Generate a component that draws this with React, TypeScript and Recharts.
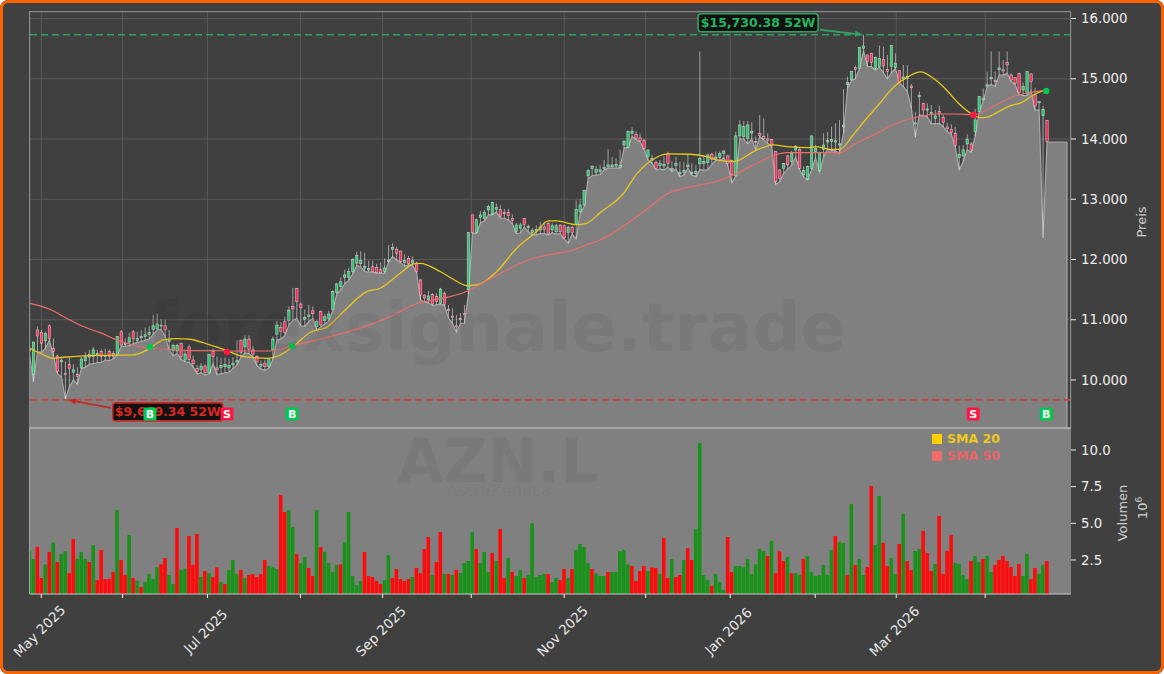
import React from 'react';
import {
  Area,
  Bar,
  CartesianGrid,
  Cell,
  ComposedChart,
  Line,
  ReferenceDot,
  ReferenceLine,
  XAxis,
  YAxis,
} from 'recharts';

// candles, one entry per trading day
const opens = [
  10530, 10090, 10830, 10790, 10650, 10900, 10520, 10400, 10300, 10110,
  10260, 10130, 10090, 10200, 10320, 10380, 10390, 10420, 10470, 10400,
  10470, 10440, 10430, 10800, 10590, 10630, 10800, 10660, 10700, 10720,
  10760, 10840, 10850, 10900, 10900, 10640, 10490, 10480, 10610, 10330,
  10550, 10330, 10190, 10170, 10230, 10120, 10470, 10200, 10210, 10220,
  10200, 10250, 10300, 10660, 10550, 10680, 10500, 10390, 10230, 10280,
  10220, 10500, 10760, 10870, 10970, 10990, 11220, 11520, 11260, 11010,
  11050, 11150, 10890, 11135, 10985, 11025, 11175, 11450, 11550, 11705,
  11705, 11800, 11940, 11930, 11855, 11825, 11880, 11870, 11830, 11800,
  11970, 12170, 12170, 12140, 11950, 12020, 11940, 11940, 11660, 11410,
  11330, 11420, 11385, 11270, 11440, 11170, 11060, 10900, 11020, 11100,
  11495, 12740, 12450, 12700, 12685, 12820, 12755, 12830, 12830, 12780,
  12780, 12684, 12463, 12520, 12680, 12530, 12450, 12470, 12490, 12540,
  12600, 12490, 12460, 12570, 12560, 12450, 12530, 12590, 12795, 12906,
  13387, 13510, 13443, 13460, 13510, 13540, 13540, 13550, 13530, 13900,
  13863, 14095, 14078, 14018, 13973, 13708, 13650, 13614, 13558, 13550,
  13763, 13487, 13560, 13420, 13450, 13540, 13430, 13430, 13586, 13597,
  13608, 13747, 13680, 13697, 13763, 13719, 13640, 13387, 14051, 14040,
  14012, 14100, 13960, 14090, 14040, 14000, 13990, 13791, 13487, 13514,
  13719, 13625, 13818, 13830, 13404, 13332, 13514, 13791, 13476, 13830,
  13950, 13960, 13950, 13900, 14200, 14900, 14981, 15190, 15174, 15506,
  15395, 15423, 15174, 15201, 15323, 15157, 15201, 15185, 15135, 15000,
  15010, 14880, 14250, 14700, 14593, 14480, 14420, 14344, 14454, 14360,
  14200, 14161, 14095, 13691, 13720, 13918, 13918, 14123, 14455, 14650,
  14880, 15000, 14970, 15150, 15150, 15273, 15063, 15024, 15091, 14814,
  14759, 15080, 14731, 14600, 14388, 14305,
];
const closes = [
  10480, 10630, 10730, 10610, 10770, 10690, 10470, 10140, 10330, 10090,
  10190, 10170, 10060, 10350, 10390, 10420, 10500, 10440, 10390, 10410,
  10390, 10390, 10720, 10580, 10610, 10700, 10690, 10690, 10720, 10750,
  10790, 10900, 10930, 10910, 10830, 10660, 10570, 10570, 10390, 10430,
  10340, 10270, 10140, 10230, 10120, 10420, 10390, 10170, 10240, 10260,
  10240, 10280, 10320, 10460, 10680, 10510, 10430, 10300, 10260, 10220,
  10360, 10680, 10910, 10810, 10790, 11160, 11180, 11300, 11200, 11040,
  11080, 11100, 10970, 10915, 11050, 11095, 11467, 11595, 11630, 11745,
  11800, 12004, 12065, 11980, 11890, 11850, 11800, 11780, 11780, 11860,
  11990, 12200, 12100, 11965, 11980, 11930, 11980, 11800, 11410, 11360,
  11395, 11260, 11300, 11510, 11250, 11150, 11040, 10880, 11000, 11080,
  12446, 12450, 12660, 12740, 12785, 12880, 12945, 12860, 12720, 12760,
  12730, 12645, 12573, 12573, 12580, 12550, 12480, 12500, 12540, 12500,
  12430, 12560, 12560, 12460, 12360, 12530, 12450, 12830, 12905, 13144,
  13476, 13550, 13498, 13490, 13530, 13570, 13570, 13580, 13560, 13960,
  14123, 14130, 14012, 13973, 13846, 13818, 13680, 13514, 13597, 13580,
  13597, 13515, 13590, 13450, 13480, 13570, 13450, 13460, 13680, 13625,
  13735, 13665, 13700, 13763, 13800, 13597, 13404, 14051, 14233, 14205,
  14233, 14130, 13950, 14060, 14010, 13980, 13900, 13293, 13349, 13597,
  13570, 13763, 13874, 13514, 13476, 13542, 14051, 13846, 13774, 13900,
  13980, 13990, 13970, 13920, 14230, 14940, 15119, 15157, 15522, 15545,
  15285, 15273, 15356, 15340, 15212, 15118, 15550, 15257, 14941, 15030,
  15040, 14850, 14270, 14720, 14482, 14500, 14440, 14383, 14416, 14272,
  14170, 14106, 13890, 13746, 13820, 13995, 13818, 14317, 14703, 14680,
  14900, 15020, 14950, 15180, 15130, 15229, 14980, 14925, 14770, 14870,
  15118, 14952, 14548, 14620, 14493, 13957,
];
const highs = [
  10560, 10640, 10890, 10830, 10800, 10920, 10690, 10420, 10390, 10310,
  10380, 10260, 10210, 10380, 10460, 10500, 10550, 10500, 10510, 10520,
  10510, 10480, 10730, 10830, 10690, 10780, 10830, 10800, 10830, 10870,
  10890, 11080, 11100, 11010, 11000, 10830, 10600, 10600, 10620, 10500,
  10590, 10400, 10250, 10280, 10260, 10440, 10520, 10390, 10370, 10370,
  10350, 10380, 10660, 10670, 10740, 10740, 10560, 10410, 10320, 10340,
  10370, 10720, 10980, 10960, 11050, 11220, 11530, 11530, 11290, 11170,
  11250, 11220, 11000, 11150, 11100, 11150, 11490, 11610, 11700, 11830,
  11860, 12020, 12130, 12140, 12110, 11980, 11980, 11930, 11950, 12020,
  12240, 12270, 12210, 12150, 12090, 12060, 12050, 11960, 11680, 11420,
  11480, 11440, 11440, 11530, 11470, 11245, 11190, 11080, 11110, 11245,
  12450, 12750, 12680, 12810, 12820, 12910, 12960, 12930, 12900, 12840,
  12840, 12750, 12610, 12610, 12690, 12580, 12520, 12570, 12620, 12630,
  12630, 12600, 12590, 12590, 12580, 12560, 12560, 12980, 13000, 13160,
  13500, 13560, 13550, 13570, 13650, 13830, 13700, 13680, 13820, 13985,
  14140, 14195, 14130, 14090, 14000, 13830, 13735, 13640, 13650, 13710,
  13790, 13630, 13700, 13625, 13625, 13735, 13597, 13570, 15450, 13740,
  13760, 13770, 13790, 13790, 13820, 13740, 13660, 14120, 14310, 14300,
  14300, 14280, 14040, 14400, 14345, 14095, 14000, 13800, 13500, 13600,
  13730, 13800, 13900, 13850, 13550, 13560, 14060, 13900, 13790, 14095,
  14120, 14205, 14260, 14317, 14826, 15036, 15130, 15220, 15530, 15730,
  15400, 15430, 15370, 15550, 15530, 15395, 15560, 15420, 15140, 15229,
  15229, 14910, 14450, 14787, 14600, 14593, 14565, 14480, 14550, 14400,
  14270, 14250, 14200, 13890, 13900, 14080, 13950, 14500, 14710, 14840,
  15118, 15450, 15120, 15450, 15310, 15450, 15090, 15030, 15100, 14940,
  15125, 15090, 14850, 14620, 14550, 14310,
];
// the last five lows carry the flat tail of the area past the final candle
const lows = [
  10420, 9970, 10470, 10460, 10530, 10660, 10400, 10110, 10050, 9680,
  9890, 10000, 9930, 10190, 10210, 10260, 10270, 10290, 10290, 10330,
  10320, 10350, 10420, 10560, 10560, 10570, 10600, 10620, 10640, 10660,
  10680, 10760, 10830, 10840, 10720, 10500, 10400, 10440, 10340, 10300,
  10290, 10220, 10100, 10120, 10080, 10100, 10270, 10090, 10100, 10120,
  10130, 10190, 10250, 10380, 10450, 10440, 10380, 10240, 10180, 10160,
  10200, 10340, 10660, 10680, 10740, 10910, 10990, 11020, 10900, 10890,
  10970, 11020, 10830, 10880, 10930, 10980, 11150, 11430, 11490, 11600,
  11650, 11760, 11900, 11880, 11800, 11790, 11790, 11770, 11770, 11770,
  11960, 12050, 11990, 11950, 11890, 11910, 11900, 11780, 11330, 11290,
  11280, 11230, 11250, 11260, 11240, 11025, 10940, 10790, 10940, 10940,
  11420, 12440, 12430, 12610, 12640, 12740, 12740, 12790, 12690, 12680,
  12660, 12590, 12430, 12440, 12540, 12460, 12410, 12410, 12430, 12430,
  12410, 12440, 12420, 12430, 12340, 12270, 12420, 12340, 12760, 12880,
  13340, 13390, 13400, 13410, 13485, 13515, 13515, 13515, 13515, 13850,
  13860, 14040, 13990, 13950, 13830, 13650, 13598, 13490, 13500, 13487,
  13530, 13460, 13500, 13375, 13400, 13515, 13400, 13375, 13490, 13480,
  13490, 13580, 13650, 13640, 13690, 13560, 13277, 13380, 14000, 14000,
  13920, 14000, 13820, 14040, 13985, 13930, 13880, 13250, 13290, 13430,
  13500, 13560, 13700, 13490, 13370, 13320, 13490, 13680, 13450, 13700,
  13830, 13810, 13800, 13764, 14096, 14842, 14970, 15000, 15170, 15470,
  15200, 15200, 15140, 15190, 15100, 15000, 15100, 15170, 14930, 14870,
  14790, 14510, 14030, 14400, 14390, 14370, 14250, 14250, 14260, 14200,
  14120, 14080, 13870, 13490, 13630, 13820, 13780, 14050, 14440, 14630,
  14870, 14905, 14870, 15060, 15060, 15090, 14960, 14900, 14740, 14720,
  14720, 14800, 14480, 14480, 12360, 13950,
  13950, 13950, 13950, 13950, 13950,
];

const volumes = [
  3.13, 2.57, 3.4, 1.27, 2.2, 3.05, 3.7, 2.36, 2.9, 3.1,
  1.6, 3.93, 2.57, 3.05, 2.57, 2.36, 3.5, 1.13, 3.18, 1.2,
  1.2, 1.68, 5.9, 2.5, 1.48, 4.2, 1.27, 1.07, 0.66, 1.0,
  1.54, 1.2, 2.0, 2.2, 2.63, 1.48, 0.86, 4.68, 1.82, 1.9,
  4.13, 2.16, 4.27, 1.34, 1.75, 1.6, 1.34, 2.0, 1.0, 0.86,
  1.82, 2.5, 1.54, 1.82, 1.27, 1.48, 1.54, 1.34, 1.54, 2.5,
  2.09, 2.0, 1.88, 6.93, 5.77, 5.9, 4.75, 2.9, 2.29, 2.7,
  1.95, 1.4, 5.9, 3.38, 3.05, 2.29, 1.68, 2.16, 2.2, 3.7,
  5.77, 1.4, 0.79, 1.07, 3.05, 1.4, 1.34, 1.07, 0.86, 1.13,
  2.84, 1.27, 1.88, 1.2, 1.07, 1.2, 1.34, 1.95, 1.6, 3.25,
  4.07, 1.48, 2.36, 4.4, 1.54, 1.54, 1.48, 1.82, 1.6, 2.29,
  2.43, 4.4, 3.25, 2.29, 3.05, 1.68, 2.98, 2.43, 4.6, 1.27,
  2.63, 1.68, 1.4, 1.82, 1.27, 1.48, 5.0, 1.34, 1.48, 1.54,
  1.54, 1.0, 1.27, 1.13, 1.88, 1.27, 1.88, 3.18, 3.59, 3.38,
  2.29, 1.88, 1.6, 1.4, 1.4, 1.68, 1.68, 1.68, 3.1, 3.18,
  2.2, 2.09, 1.07, 1.75, 2.09, 1.75, 2.0, 1.95, 1.54, 4.0,
  1.27, 2.57, 1.34, 1.48, 2.5, 3.3, 2.5, 4.6, 10.47, 1.48,
  1.13, 0.73, 1.54, 1.0, 0.45, 4.07, 1.68, 2.09, 2.09, 2.0,
  2.57, 1.54, 2.2, 3.25, 3.1, 2.77, 3.8, 1.6, 3.1, 2.43,
  2.7, 1.6, 1.6, 1.48, 2.57, 2.77, 1.68, 1.4, 1.48, 2.16,
  1.48, 3.18, 4.13, 3.73, 3.66, 1.48, 6.3, 2.16, 2.57, 1.48,
  2.02, 7.54, 3.52, 6.86, 3.66, 2.09, 2.63, 1.54, 3.59, 5.63,
  2.43, 1.82, 3.11, 3.25, 4.48, 2.98, 1.75, 2.23, 5.5, 1.54,
  3.11, 4.2, 2.3, 2.23, 1.48, 1.2, 2.43, 2.77, 2.36, 2.57,
  2.77, 1.68, 2.16, 2.5, 2.77, 2.43, 2.02, 1.4, 2.23, 1.4,
  2.91, 1.2, 1.95, 1.54, 2.16, 2.43,
];
// g = green bar, r = red bar, same order as volumes
const volumeSides = [
  'ggrrgrgrgg', 'rrgggrgrrr', 'rrgrrgrgrg', 'gggrrggrgg', 'rrrgrgrrgr',
  'gggrgrrrrr', 'gggrrggrgg', 'rrgrggggrg', 'ggggrrrrrg', 'grrrrrgrrr',
  'rgrrgrgrgg', 'ggrgggrgrr', 'grggrggggg', 'rggrrgrggg', 'grgggrgggg',
  'grrrrgrrgr', 'rgrrgrrggg', 'grgggrrggg', 'gggggrgrrr', 'grggrggggg',
  'ggrggrgrgg', 'rrggrrggrg', 'rrggrrrgrr', 'rrggggrggr', 'ggrrrrrrrg',
  'grrggr',
].join('');

const sma20Days = [0.1, 3.5, 6, 8.5, 13.5, 17.7, 26, 30.2, 33.5, 36.9, 40.2, 44.4, 49.4, 52.8, 57, 59.9, 66.1, 67.8, 70.3, 74.5, 78.7, 84.5, 87.9, 92.9, 96.2, 97.9, 102.9, 106.2, 109.6, 112.1, 117.1, 122.1, 127.1, 130, 132.1, 137.1, 139.6, 143, 148.9, 152.2, 157.2, 160.1, 165.6, 169.7, 172.3, 176.4, 182.3, 186.5, 189.8, 195.6, 196.9, 200.6, 203.1, 206.4, 209.8, 213.1, 216.5, 220.2, 223.3, 226.5, 229.8, 232.8, 236.5, 237.8, 239.4, 242.4, 245.7, 248.6, 251.6, 254];
const sma20Values = [10526, 10416, 10360, 10377, 10400, 10410, 10416, 10526, 10665, 10687, 10676, 10600, 10490, 10400, 10366, 10360, 10554, 10654, 10787, 10876, 11135, 11467, 11523, 11771, 11926, 11937, 11800, 11672, 11567, 11578, 11800, 12186, 12463, 12640, 12640, 12579, 12601, 12778, 13100, 13420, 13697, 13752, 13747, 13708, 13653, 13625, 13819, 13901, 13874, 13857, 13874, 13829, 13829, 14067, 14344, 14593, 14858, 15035, 15113, 15008, 14814, 14593, 14400, 14360, 14355, 14438, 14549, 14604, 14731, 14803];
const sma50Days = [0.1, 5.1, 9.3, 13.5, 17.7, 21.9, 26, 30.2, 34.4, 40.2, 46.1, 50.3, 55.3, 60.3, 65.3, 67.8, 72.8, 77.8, 84.5, 90.4, 96.2, 101.2, 105.4, 110.4, 114.6, 119.6, 126.3, 131.3, 135.5, 139.6, 143, 154.7, 160.1, 163.1, 168.1, 171.4, 176.4, 182.3, 187.3, 189.8, 195.6, 200.6, 203.1, 206.4, 211.5, 217.3, 222.3, 227.3, 232.3, 236.5, 240.7, 246.5, 250.7, 254];
const sma50Values = [11273, 11173, 11024, 10886, 10786, 10665, 10582, 10526, 10510, 10488, 10488, 10482, 10482, 10482, 10554, 10599, 10677, 10765, 10898, 11053, 11246, 11329, 11384, 11495, 11650, 11827, 12020, 12092, 12142, 12242, 12325, 12834, 13100, 13166, 13238, 13282, 13404, 13597, 13747, 13774, 13774, 13774, 13774, 13901, 14067, 14261, 14360, 14416, 14416, 14400, 14510, 14703, 14770, 14803];

const priceTicks = [10000, 11000, 12000, 13000, 14000, 15000, 16000];
const volumeTicks = [2.5, 5, 7.5, 10];
const monthDays = [2.96, 23.3, 44.6, 67.9, 88.5, 110.7, 134, 154.4, 175.6, 196.9, 217.2, 239.5];
const monthLabels = ['May 2025', '', 'Jul 2025', '', 'Sep 2025', '', 'Nov 2025', '', 'Jan 2026', '', 'Mar 2026', ''];

const signalDays = [30.2, 49.5, 65.8, 236.5, 254.8];
const signalPrices = [10548, 10465, 10564, 14400, 14798];
const signalKinds = ['B', 'S', 'B', 'S', 'B'];
const badgePrice = 9436;

const high52 = 15730.38;
const high52Day = 208.9;
const low52 = 9669.34;
const low52Day = 9.6;

const GREEN = '#00c853';
const PINK = '#ff1744';
const FONT = 'DejaVu Sans, sans-serif';
const xDomain = [0.125, 261];

const rows = lows.map((low, i) => ({
  day: i,
  low,
  open: opens[i],
  close: closes[i],
  high: highs[i],
}));
const sma20Rows = sma20Days.map((day, i) => ({ day, value: sma20Values[i] }));
const sma50Rows = sma50Days.map((day, i) => ({ day, value: sma50Values[i] }));
const volumeRows = volumes.map((volume, i) => ({ day: i, volume }));

const Candle = (props: any) => {
  const { x, y, width, height, payload } = props;
  if (payload.high == null || !height) return null;
  const perUnit = height / (payload.high - payload.low);
  const top = y + (payload.high - Math.max(payload.open, payload.close)) * perUnit;
  const bodyH = Math.max(Math.abs(payload.open - payload.close) * perUnit, 1);
  const cx = x + width / 2;
  return (
    <g>
      <line x1={cx} x2={cx} y1={y} y2={y + height} stroke="#e6e6e6" strokeOpacity={0.65} strokeWidth={0.9} />
      <rect
        x={cx - 1.2}
        y={top}
        width={2.4}
        height={bodyH}
        fill={payload.close >= payload.open ? '#29c46a' : '#f52c58'}
        stroke="#f2f2f2"
        strokeOpacity={0.7}
        strokeWidth={0.6}
      />
    </g>
  );
};

const SignalDot = (props: any) => <circle cx={props.cx} cy={props.cy} r={3.2} fill={props.fill} />;

const Badge = (props: any) => (
  <g>
    <rect x={props.cx - 6.5} y={props.cy - 6.5} width={13} height={13} rx={1.5} fill={props.fill} />
    <text x={props.cx} y={props.cy + 4} textAnchor="middle" fontFamily={FONT} fontWeight={700} fontSize={11} fill="#fff">
      {props.kind}
    </text>
  </g>
);

/* Arrow to the extreme plus the boxed label, placed relative to the 52W point */
const ExtremeTag = (props: any) => {
  const { cx, cy, text, color, border, boxDx, boxDy, boxW, tailDx, tailDy } = props;
  const angle = Math.atan2(-tailDy, -tailDx);
  const hx = cx - Math.cos(angle) * 8;
  const hy = cy - Math.sin(angle) * 8;
  const nx = -Math.sin(angle) * 3;
  const ny = Math.cos(angle) * 3;
  return (
    <g>
      <line x1={cx + tailDx} y1={cy + tailDy} x2={hx} y2={hy} stroke={border} strokeWidth={1.8} />
      <polygon points={`${cx},${cy} ${hx + nx},${hy + ny} ${hx - nx},${hy - ny}`} fill={border} />
      <rect x={cx + boxDx} y={cy + boxDy} width={boxW} height={18} rx={3} fill="#111" stroke={border} strokeWidth={1.6} />
      <text x={cx + boxDx + boxW / 2} y={cy + boxDy + 13.5} textAnchor="middle" fontFamily={FONT} fontWeight={700} fontSize={12.5} fill={color}>
        {text}
      </text>
    </g>
  );
};

const MonthTick = (props: any) => {
  const { x, y, index } = props;
  const label = monthLabels[index];
  if (!label) return null;
  return (
    <text
      transform={`translate(${x - 2},${y + 31}) rotate(-45)`}
      textAnchor="middle"
      dominantBaseline="central"
      fontFamily={FONT}
      fontSize={13.5}
      fill="#e8e8e8"
    >
      {label}
    </text>
  );
};

const germanPrice = (v: number) => `${Math.floor(v / 1000)}.${String(v % 1000).padStart(3, '0')}`;

export default function App() {
  return (
    <div
      style={{
        position: 'absolute',
        left: 0,
        top: 0,
        width: 1164,
        height: 674,
        boxSizing: 'border-box',
        background: '#404040',
        borderRadius: 8,
        overflow: 'hidden',
        fontFamily: FONT,
      }}
    >
      <div style={{ position: 'absolute', left: 0, top: 0 }}>
        <ComposedChart width={1164} height={429} data={rows} margin={{ top: 12, right: 0, left: 30, bottom: 1 }}>
          <CartesianGrid stroke="#5f5f5f" strokeWidth={0.8} />
          <XAxis dataKey="day" type="number" scale="linear" domain={xDomain} allowDataOverflow ticks={monthDays} hide />
          <YAxis
            orientation="right"
            type="number"
            domain={[9203, 16108]}
            allowDataOverflow
            ticks={priceTicks}
            tickFormatter={germanPrice}
            width={93}
            axisLine={false}
            tickLine={{ stroke: '#eee' }}
            tickSize={5}
            tickMargin={5}
            tick={{ fill: '#eee', fontSize: 13.3, fontFamily: FONT }}
          />
          <Area dataKey="low" type="linear" fill="#808080" fillOpacity={1} stroke="#a9a9a9" strokeWidth={1.2} dot={false} activeDot={false} isAnimationActive={false} />
          <ReferenceLine segment={[{ x: 260, y: 13950 }, { x: 260, y: 9203 }]} stroke="#a9a9a9" strokeWidth={1.2} />
          <ReferenceLine y={high52} stroke="#2fa163" strokeWidth={1.6} strokeDasharray="7 4" />
          <ReferenceLine y={low52} stroke="#c4453f" strokeWidth={1.6} strokeDasharray="7 4" />
          <Bar
            dataKey={(d: any) => (d.high == null ? null : [d.low, d.high])}
            barSize={4}
            shape={<Candle />}
            isAnimationActive={false}
          />
          <Line data={sma20Rows} dataKey="value" type="monotone" stroke="#e9c61e" strokeWidth={1.3} dot={false} activeDot={false} isAnimationActive={false} />
          <Line data={sma50Rows} dataKey="value" type="monotone" stroke="#ef6d68" strokeWidth={1.1} dot={false} activeDot={false} isAnimationActive={false} />
          <ReferenceDot
            x={high52Day}
            y={high52}
            r={1}
            ifOverflow="visible"
            shape={<ExtremeTag text="$15,730.38 52W" color="#22b45f" border="#2fa163" boxDx={-165} boxDy={-21} boxW={120} tailDx={-43} tailDy={-5} />}
          />
          <ReferenceDot
            x={low52Day}
            y={low52}
            r={1}
            ifOverflow="visible"
            shape={<ExtremeTag text={`$${low52.toLocaleString('en-US')} 52W`} color="#d9261f" border="#c22a26" boxDx={45} boxDy={3} boxW={110} tailDx={43} tailDy={8} />}
          />
          {signalDays.map((day, i) => (
            <ReferenceDot
              key={`dot-${day}`}
              x={day}
              y={signalPrices[i]}
              r={3.2}
              fill={signalKinds[i] === 'B' ? GREEN : PINK}
              ifOverflow="visible"
              shape={<SignalDot />}
            />
          ))}
          {signalDays.map((day, i) => (
            <ReferenceDot
              key={`badge-${day}`}
              x={day}
              y={badgePrice}
              r={6}
              fill={signalKinds[i] === 'B' ? GREEN : PINK}
              ifOverflow="visible"
              shape={<Badge kind={signalKinds[i]} />}
            />
          ))}
        </ComposedChart>
      </div>

      <div style={{ position: 'absolute', left: 0, top: 429 }}>
        <ComposedChart width={1164} height={245} data={volumeRows} margin={{ top: 0, right: 0, left: 30, bottom: 0 }}>
          <CartesianGrid horizontal={false} vertical={false} fill="#808080" fillOpacity={1} />
          <XAxis
            dataKey="day"
            type="number"
            scale="linear"
            domain={xDomain}
            allowDataOverflow
            ticks={monthDays}
            interval={0}
            height={80}
            axisLine={{ stroke: '#c8c8c8', strokeWidth: 1.2 }}
            tickLine={{ stroke: '#eee' }}
            tickSize={4}
            tick={<MonthTick />}
          />
          <YAxis
            orientation="right"
            type="number"
            domain={[0.18, 11.43]}
            allowDataOverflow
            ticks={volumeTicks}
            tickFormatter={(v: number) => v.toFixed(1)}
            width={93}
            axisLine={false}
            tickLine={{ stroke: '#eee' }}
            tickSize={5}
            tickMargin={5}
            tick={{ fill: '#eee', fontSize: 13.3, fontFamily: FONT }}
          />
          <Bar dataKey="volume" barSize={4.6} isAnimationActive={false}>
            {volumeRows.map((row, i) => (
              <Cell key={row.day} fill={volumeSides[i] === 'g' ? '#189218' : '#ff0a0a'} />
            ))}
          </Bar>
        </ComposedChart>
      </div>

      {/* watermarks, axis captions, legend and panel frames */}
      <svg width={1164} height={674} style={{ position: 'absolute', left: 0, top: 0, pointerEvents: 'none' }} fontFamily={FONT}>
        <text x={497} y={351} textAnchor="middle" fontSize={67} fontWeight={700} fill="#000" fillOpacity={0.055}>
          forexsignale.trade
        </text>
        <text x={498} y={482} textAnchor="middle" fontSize={60} fontWeight={700} fill="#000" fillOpacity={0.055}>
          AZN.L
        </text>
        <text x={499} y={496} textAnchor="middle" fontSize={16.5} fill="#000" fillOpacity={0.055}>
          AstraZeneca
        </text>

        <rect x={29.5} y={11.5} width={1041} height={417} fill="none" stroke="#8c8c8c" />
        <line x1={29.5} x2={1071} y1={428} y2={428} stroke="#a8a8a8" strokeWidth={2} />
        <line x1={29.5} x2={29.5} y1={429} y2={594} stroke="#a8a8a8" />

        <text transform="translate(1146,222) rotate(-90)" textAnchor="middle" fontSize={13} fill="#cfcfcf">Preis</text>
        <text transform="translate(1127,513) rotate(-90)" textAnchor="middle" fontSize={13} fill="#cfcfcf">Volumen</text>
        <text transform="translate(1147,508) rotate(-90)" textAnchor="middle" fontSize={13} fill="#cfcfcf">
          10<tspan dy={-5} fontSize={9}>6</tspan>
        </text>

        <rect x={932} y={434} width={10} height={10} fill="#ffd000" />
        <text x={947} y={442.5} fontSize={12.5} fontWeight={700} fill="#efc81c">SMA 20</text>
        <rect x={932} y={451} width={10} height={10} fill="#f56a6a" />
        <text x={947} y={459.5} fontSize={12.5} fontWeight={700} fill="#e96464">SMA 50</text>
      </svg>

      <div style={{ position: 'absolute', inset: 0, border: '3px solid #f96302', borderRadius: 8, pointerEvents: 'none' }} />
    </div>
  );
}
